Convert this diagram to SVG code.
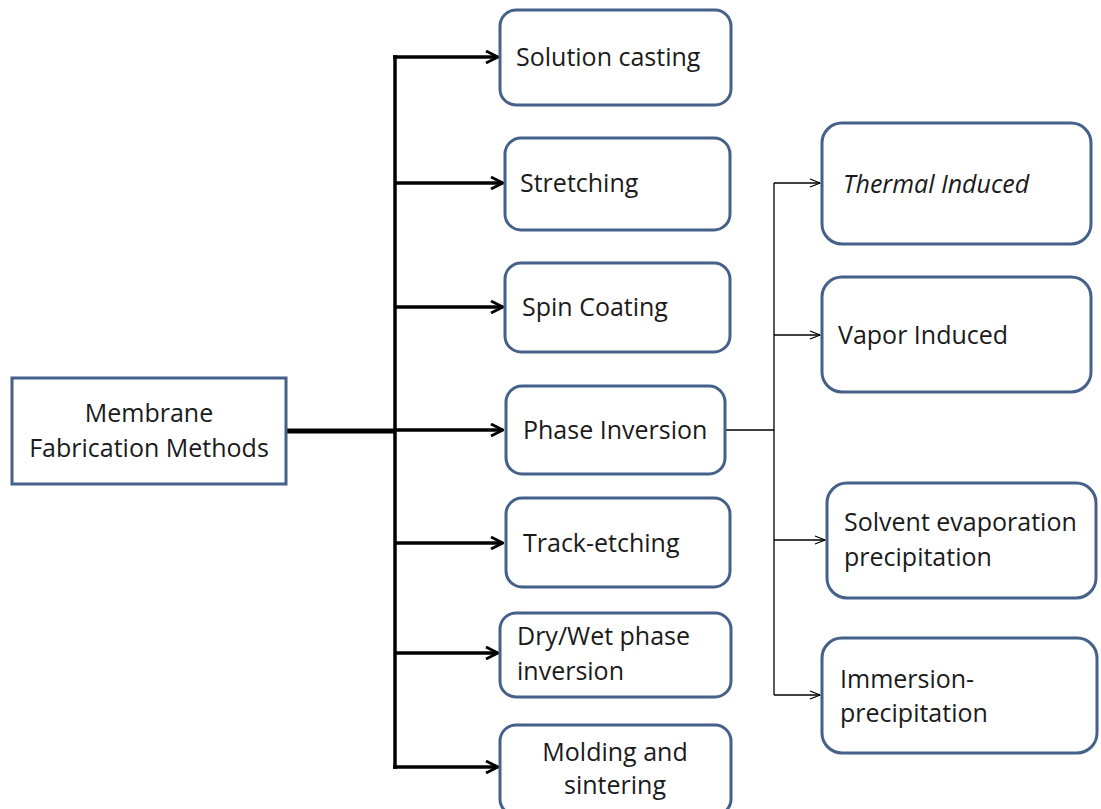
<svg xmlns="http://www.w3.org/2000/svg" width="1101" height="809" viewBox="0 0 1101 809">
<style>
.box{fill:#ffffff;stroke:#45618a;stroke-width:3}
.t{font-family:"Open Sans","Liberation Sans",sans-serif;font-size:25px;fill:#1a1a1a}
.thick{stroke:#000;stroke-width:3.5;fill:none}
.thin{stroke:#000;stroke-width:1.3;fill:none}
</style>
<defs>
<marker id="ah" viewBox="0 0 14 14" refX="13" refY="7" markerWidth="14" markerHeight="14" markerUnits="userSpaceOnUse" orient="auto">
<path d="M1,1 L13,7 L1,13" fill="none" stroke="#000" stroke-width="2.8"/>
</marker>
<marker id="ahs" viewBox="0 0 12 12" refX="11" refY="6" markerWidth="12" markerHeight="12" markerUnits="userSpaceOnUse" orient="auto">
<path d="M1,2 L11,6 L1,10" fill="none" stroke="#000" stroke-width="1.2"/>
</marker>
</defs>
<rect width="1101" height="809" fill="#ffffff"/>
<g id="connectors">
<line x1="286" y1="431" x2="395" y2="431" stroke="#000" stroke-width="5"/>
<line class="thick" x1="395" y1="55" x2="395" y2="769"/>
<line class="thick" x1="393" y1="57" x2="498" y2="57" marker-end="url(#ah)"/>
<line class="thick" x1="395" y1="183" x2="503" y2="183" marker-end="url(#ah)"/>
<line class="thick" x1="395" y1="307" x2="503" y2="307" marker-end="url(#ah)"/>
<line class="thick" x1="395" y1="430" x2="503" y2="430" marker-end="url(#ah)"/>
<line class="thick" x1="395" y1="543" x2="503" y2="543" marker-end="url(#ah)"/>
<line class="thick" x1="395" y1="653" x2="498" y2="653" marker-end="url(#ah)"/>
<line class="thick" x1="393" y1="767" x2="498" y2="767" marker-end="url(#ah)"/>
<line class="thin" x1="725" y1="430" x2="774" y2="430"/>
<line class="thin" x1="774" y1="183" x2="774" y2="695"/>
<line class="thin" x1="774" y1="183" x2="820" y2="183" marker-end="url(#ahs)"/>
<line class="thin" x1="774" y1="335" x2="820" y2="335" marker-end="url(#ahs)"/>
<line class="thin" x1="774" y1="540" x2="825" y2="540" marker-end="url(#ahs)"/>
<line class="thin" x1="774" y1="695" x2="820" y2="695" marker-end="url(#ahs)"/>
</g>
<g id="root">
<rect x="12" y="378" width="274" height="106" fill="#fff" stroke="#45618a" stroke-width="3"/>
<text class="t" x="149" y="422" text-anchor="middle">Membrane</text>
<text class="t" x="149" y="457" text-anchor="middle">Fabrication Methods</text>
</g>
<g id="solution-casting">
<rect class="box" x="500" y="10" width="231" height="95" rx="16"/>
<text class="t" x="516" y="66">Solution casting</text>
</g>
<g id="stretching">
<rect class="box" x="505" y="138" width="225" height="92" rx="16"/>
<text class="t" x="520" y="192">Stretching</text>
</g>
<g id="spin-coating">
<rect class="box" x="505" y="263" width="225" height="89" rx="16"/>
<text class="t" x="522" y="316">Spin Coating</text>
</g>
<g id="phase-inversion">
<rect class="box" x="506" y="386" width="219" height="88" rx="16"/>
<text class="t" x="523" y="439">Phase Inversion</text>
</g>
<g id="track-etching">
<rect class="box" x="506" y="498" width="224" height="89" rx="16"/>
<text class="t" x="523" y="552">Track-etching</text>
</g>
<g id="dry-wet">
<rect class="box" x="500" y="613" width="231" height="84" rx="16"/>
<text class="t" x="517" y="645">Dry/Wet phase</text>
<text class="t" x="517" y="680">inversion</text>
</g>
<g id="molding">
<rect class="box" x="500" y="725" width="231" height="90" rx="16"/>
<text class="t" x="615" y="761" text-anchor="middle">Molding and</text>
<text class="t" x="615" y="794" text-anchor="middle">sintering</text>
</g>
<g id="thermal-induced">
<rect class="box" x="822" y="123" width="269" height="121" rx="20"/>
<text class="t" x="843" y="193" font-style="italic">Thermal Induced</text>
</g>
<g id="vapor-induced">
<rect class="box" x="822" y="277" width="269" height="115" rx="20"/>
<text class="t" x="838" y="344">Vapor Induced</text>
</g>
<g id="solvent-evaporation">
<rect class="box" x="827" y="483" width="269" height="115" rx="20"/>
<text class="t" x="844" y="531">Solvent evaporation</text>
<text class="t" x="844" y="566">precipitation</text>
</g>
<g id="immersion">
<rect class="box" x="822" y="638" width="275" height="115" rx="20"/>
<text class="t" x="840" y="688">Immersion-</text>
<text class="t" x="840" y="722">precipitation</text>
</g>
</svg>
